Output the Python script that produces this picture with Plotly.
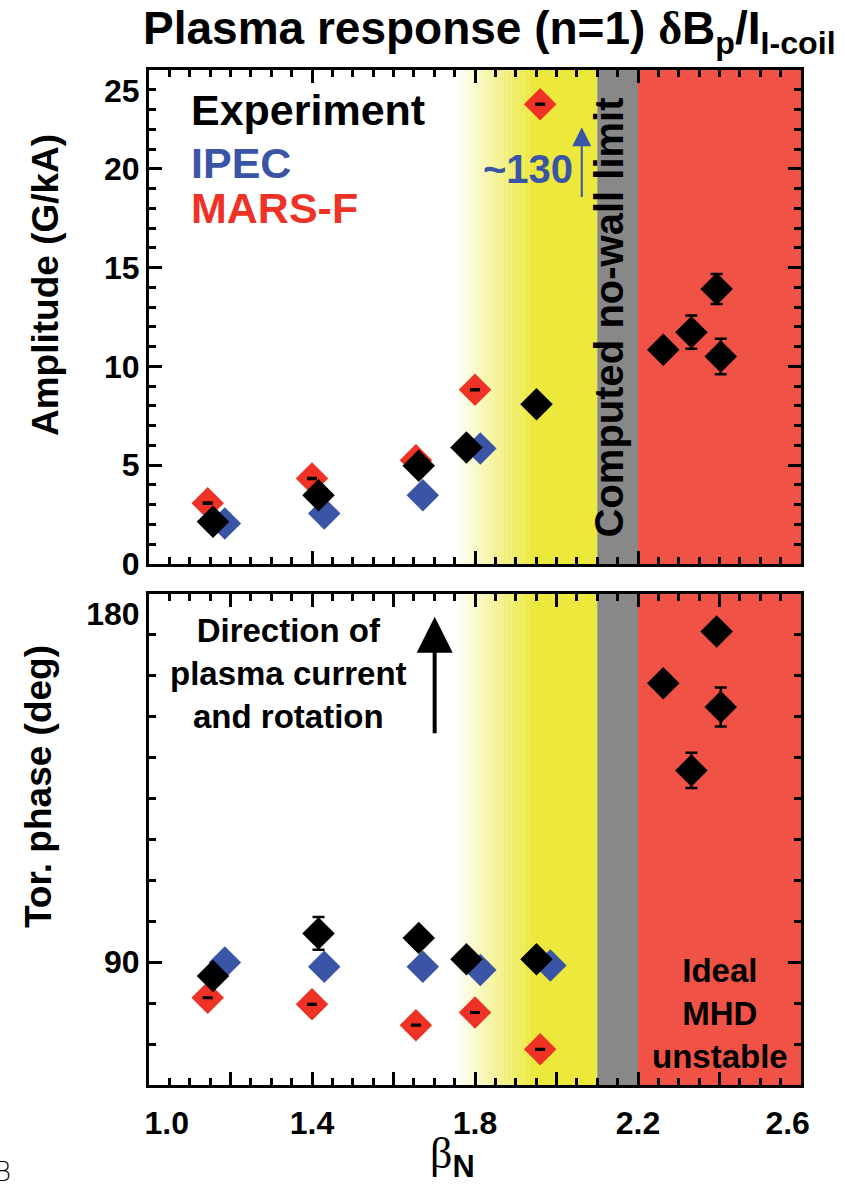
import plotly.graph_objects as go

# ---- data -------------------------------------------------------------
# beta_N of the measured shots and the experimental response
exp_beta = [1.157, 1.416, 1.662, 1.779, 1.951, 2.262, 2.331, 2.393, 2.403]
exp_amp = [2.14, 3.48, 4.97, 5.89, 8.08, 10.84, 11.73, 13.92, 10.50]
exp_amp_err = [0, 0, 0, 0, 0, 0, 0.84, 0.76, 0.90]
exp_phase = [86.6, 97.0, 95.9, 90.7, 90.7, 158.1, 136.8, 170.7, 152.3]
exp_phase_err = [0, 4.0, 0, 0, 0, 0, 4.3, 0, 4.75]

# IPEC model (last amplitude is off scale, ~130 G/kA)
ipec_beta = [1.186, 1.430, 1.672, 1.813, 1.985]
ipec_amp = [2.05, 2.56, 3.48, 5.84, 130.0]
ipec_phase = [89.9, 88.9, 88.9, 88.1, 89.2]

# MARS-F model
mars_beta = [1.144, 1.400, 1.655, 1.800, 1.960]
mars_amp = [3.08, 4.33, 5.25, 8.82, 23.27]
mars_phase = [81.3, 79.7, 74.6, 77.7, 68.7]

# stability regions in beta_N
yellow_fade = (1.75, 1.94)
yellow_end = 2.10
no_wall_limit = (2.10, 2.20)
unstable = (2.20, 2.60)

NB = "\u00a0"
x_ticks = [1.0, 1.2, 1.4, 1.6, 1.8, 2.0, 2.2, 2.4, 2.6]
x_ticktext = [NB * 4 + "1.0", "", "1.4", "", "1.8", "", "2.2", "", "2.6" + NB * 3]
amp_ticks = [0, 5, 10, 15, 20, 25]
amp_ticktext = ["0", "5", "10", "15", "20", "<br>25"]
phase_ticks = [90, 180]
phase_ticktext = ["90", "<br>180"]

# ---- style ------------------------------------------------------------
FONT = "Liberation Sans, Arial, sans-serif"
SERIF = "Liberation Serif, Times New Roman, serif"
BLACK = "#000000"
BLUE = "#3B55A6"
RED = "#EE3326"
YELLOW = (236, 232, 60)
GRAY = "#888888"
RED_BG = "#F05346"
MSIZE = 25

# plot-area geometry in pixels, used to place free text
W, H = 845, 1190
L, R, T, B = 149, 44, 70, 105
PW, PH = W - L - R, H - T - B


def px_x(px):
    return (px - L) / PW


def px_y(py):
    return (H - B - py) / PH


fig = go.Figure()


def add_panel(yvals_exp, yerr_exp, yvals_ipec, yvals_mars, mars_dash, xa, ya):
    fig.add_trace(go.Scatter(
        x=ipec_beta, y=yvals_ipec, mode="markers", xaxis=xa, yaxis=ya,
        marker=dict(symbol="diamond", size=MSIZE, color=BLUE, line=dict(width=0)),
        showlegend=False, cliponaxis=True))
    fig.add_trace(go.Scatter(
        x=mars_beta, y=yvals_mars, mode="markers", xaxis=xa, yaxis=ya,
        marker=dict(symbol="diamond", size=MSIZE, color=RED, line=dict(width=0)),
        showlegend=False))
    # small uncertainty ticks on the MARS-F points, drawn over the markers
    fig.add_trace(go.Scatter(
        x=mars_beta, y=yvals_mars, mode="markers", xaxis=xa, yaxis=ya,
        marker=dict(size=1, opacity=0),
        error_y=dict(type="constant", value=mars_dash, color=BLACK,
                     thickness=2, width=5),
        showlegend=False, hoverinfo="skip"))
    fig.add_trace(go.Scatter(
        x=exp_beta, y=yvals_exp, mode="markers", xaxis=xa, yaxis=ya,
        marker=dict(symbol="diamond", size=MSIZE, color=BLACK, line=dict(width=0)),
        error_y=dict(type="data", array=yerr_exp, color=BLACK,
                     thickness=2.5, width=6),
        showlegend=False))


add_panel(exp_amp, exp_amp_err, ipec_amp, mars_amp, 0.04, "x", "y")
add_panel(exp_phase, exp_phase_err, ipec_phase, mars_phase, 0.15, "x2", "y2")

# ---- background regions ------------------------------------------------
shapes = []
n_fade = 30
f0, f1 = yellow_fade
for xr, yr in (("x", "y domain"), ("x2", "y2 domain")):
    for i in range(n_fade):
        t = (i + 0.5) / n_fade
        r = round(255 + (YELLOW[0] - 255) * t)
        g = round(255 + (YELLOW[1] - 255) * t)
        b = round(255 + (YELLOW[2] - 255) * t)
        xa0 = f0 + (f1 - f0) * i / n_fade
        xa1 = f0 + (f1 - f0) * (i + 1.05) / n_fade
        shapes.append(dict(type="rect", xref=xr, yref=yr, x0=xa0, x1=xa1,
                           y0=0, y1=1, fillcolor=f"rgb({r},{g},{b})",
                           line=dict(width=0), layer="below"))
    shapes.append(dict(type="rect", xref=xr, yref=yr, x0=f1, x1=yellow_end,
                       y0=0, y1=1, fillcolor=f"rgb{YELLOW}",
                       line=dict(width=0), layer="below"))
    shapes.append(dict(type="rect", xref=xr, yref=yr, x0=no_wall_limit[0],
                       x1=no_wall_limit[1], y0=0, y1=1, fillcolor=GRAY,
                       line=dict(width=0), layer="below"))
    shapes.append(dict(type="rect", xref=xr, yref=yr, x0=unstable[0],
                       x1=unstable[1], y0=0, y1=1, fillcolor=RED_BG,
                       line=dict(width=0), layer="below"))

# ---- axes -------------------------------------------------------------
axis_common = dict(showline=True, linecolor=BLACK, linewidth=3, mirror="allticks",
                   ticks="inside", tickcolor=BLACK, tickwidth=2.5, showgrid=False,
                   zeroline=False, automargin=False,
                   tickfont=dict(family=FONT, size=32, color=BLACK, weight="bold"))

xaxis_common = dict(axis_common, range=[1.0, 2.6], tickmode="array",
                    tickvals=x_ticks, ticktext=x_ticktext, ticklen=13,
                    minor=dict(ticks="inside", ticklen=7, tickwidth=2.5,
                               tickcolor=BLACK, tick0=1.0, dtick=0.05))

fig.update_layout(
    width=W, height=H,
    margin=dict(l=L, r=R, t=T, b=B, autoexpand=False),
    paper_bgcolor="white", plot_bgcolor="white",
    font=dict(family=FONT, color=BLACK),
    shapes=shapes,
    xaxis=dict(xaxis_common, anchor="y", showticklabels=False, matches="x2"),
    xaxis2=dict(xaxis_common, anchor="y2", ticklabelstandoff=8),
    yaxis=dict(axis_common, domain=[px_y(564), 1.0], range=[0, 25],
               tickmode="array", tickvals=amp_ticks, ticktext=amp_ticktext,
               ticklen=13,
               minor=dict(ticks="inside", ticklen=7, tickwidth=2.5,
                          tickcolor=BLACK, tick0=0, dtick=1)),
    yaxis2=dict(axis_common, domain=[0.0, px_y(593.5)], range=[60, 180],
                tickmode="array", tickvals=phase_ticks, ticktext=phase_ticktext,
                ticklen=13,
                minor=dict(ticks="inside", ticklen=7, tickwidth=2.5,
                           tickcolor=BLACK, tick0=0, dtick=10)),
    title=dict(text=f'<b>Plasma response (n=1) <span style="font-family:{SERIF}">δ</span>'
                    'B<sub>p</sub>/I<sub>I-coil</sub></b>',
               font=dict(family=FONT, size=46, color=BLACK),
               x=143 / W, xanchor="left", xref="container",
               y=1 - 28 / H, yanchor="middle", yref="container",
               automargin=False),
)

# ---- annotations -------------------------------------------------------
ann = []

# axis titles
ann.append(dict(text="<b>Amplitude (G/kA)</b>", x=px_x(45), y=px_y(285),
                xref="paper", yref="paper", textangle=-90, showarrow=False,
                xanchor="center", yanchor="middle",
                font=dict(family=FONT, size=37, color=BLACK)))
ann.append(dict(text="<b>Tor. phase (deg)</b>", x=px_x(38), y=px_y(787),
                xref="paper", yref="paper", textangle=-90, showarrow=False,
                xanchor="center", yanchor="middle",
                font=dict(family=FONT, size=37, color=BLACK)))
ann.append(dict(text=f'<span style="font-family:{SERIF}">β</span><sub><b>N</b></sub>',
                x=px_x(452), y=px_y(1156), xref="paper", yref="paper",
                showarrow=False, xanchor="center", yanchor="middle",
                font=dict(family=FONT, size=44, color=BLACK)))

legend_items = [("Experiment", BLACK, 23.0), ("IPEC", BLUE, 20.3), ("MARS-F", RED, 18.0)]
for txt, col, yv in legend_items:
    ann.append(dict(text=f"<b>{txt}</b>", x=1.099, y=yv, xref="x", yref="y",
                    xanchor="left", yanchor="middle", showarrow=False,
                    font=dict(family=FONT, size=43, color=col)))

# off-scale IPEC value
ann.append(dict(text="<b>~130</b>", x=2.045, y=20.0, xref="x", yref="y",
                xanchor="right", yanchor="middle", showarrow=False,
                font=dict(family=FONT, size=40, color=BLUE)))
ann.append(dict(text="", x=2.062, y=22.1, ax=2.062, ay=18.5, xref="x", yref="y",
                axref="x", ayref="y", showarrow=True, arrowhead=2, arrowsize=1.9,
                arrowwidth=2, arrowcolor=BLUE))

ann.append(dict(text="<b>Computed no-wall limit</b>", x=2.13, y=0.5,
                xref="x", yref="y domain", textangle=-90, showarrow=False,
                xanchor="center", yanchor="middle",
                font=dict(family=FONT, size=40, color=BLACK)))

ann.append(dict(text="<b>Direction of<br>plasma current<br>and rotation</b>",
                x=1.342, y=160.4, xref="x2", yref="y2", showarrow=False,
                xanchor="center", yanchor="middle", align="center",
                font=dict(family=FONT, size=33, color=BLACK)))
ann.append(dict(text="", x=1.701, y=174.3, ax=1.701, ay=145.5, xref="x2", yref="y2",
                axref="x2", ayref="y2", showarrow=True, arrowhead=2, arrowsize=1.8,
                arrowwidth=4, arrowcolor=BLACK))

ann.append(dict(text="<b>Ideal<br>MHD<br>unstable</b>", x=2.40, y=77.5,
                xref="x2", yref="y2", showarrow=False, xanchor="center",
                yanchor="middle", align="center",
                font=dict(family=FONT, size=33, color=BLACK)))

# clipped figure marker at the lower left corner
ann.append(dict(text="B", x=px_x(2), y=px_y(1172), xref="paper", yref="paper",
                xanchor="center", yanchor="middle", showarrow=False,
                font=dict(family="DejaVu Sans", size=26, color=BLACK, weight=200)))

fig.update_layout(annotations=ann)

fig.write_html("out.html")
